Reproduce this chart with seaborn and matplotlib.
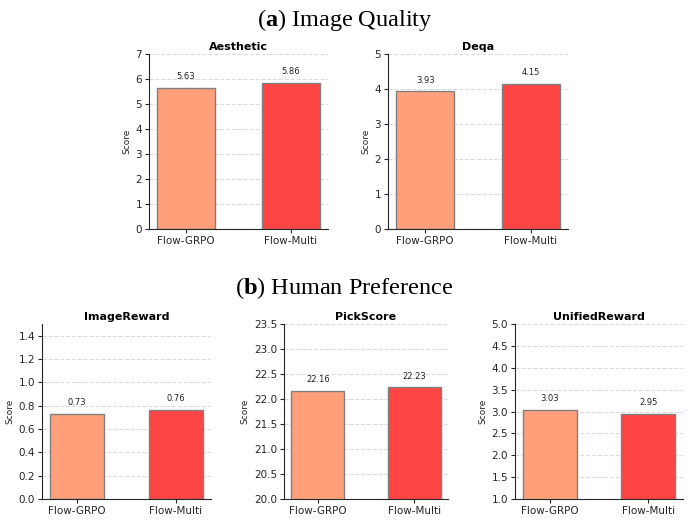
import matplotlib
matplotlib.use("Agg")
import matplotlib.pyplot as plt
import seaborn as sns
import numpy as np
import pandas as pd

methods = ["Flow-GRPO", "Flow-Multi"]
colors = ["#FFA07A", "#FF4444"]

aesthetic = [5.63, 5.86]
deqa = [3.93, 4.15]
imagereward = [0.73, 0.76]
pickscore = [22.16, 22.23]
unifiedreward = [3.03, 2.95]

panels = [
    ("Aesthetic", aesthetic, (0, 7), np.arange(0, 8, 1), "{:.0f}"),
    ("Deqa", deqa, (0, 5), np.arange(0, 6, 1), "{:.0f}"),
    ("ImageReward", imagereward, (0, 1.5), np.arange(0, 1.41, 0.2), "{:.1f}"),
    ("PickScore", pickscore, (20, 23.5), np.arange(20, 23.51, 0.5), "{:.1f}"),
    ("UnifiedReward", unifiedreward, (1, 5), np.arange(1, 5.01, 0.5), "{:.1f}"),
]

sns.set_style("white")
plt.rcParams['font.family'] = ['DejaVu Sans']
plt.rcParams['mathtext.fontset'] = 'custom'
plt.rcParams['mathtext.rm'] = 'Liberation Serif'
plt.rcParams['mathtext.bf'] = 'Liberation Serif:bold'

W, H = 689, 520
fig = plt.figure(figsize=(W / 100, H / 100), dpi=100)

# pixel boxes: left, right, top, bottom
boxes = [
    (149, 328, 54, 229),
    (388, 568, 54, 229),
    (42, 211, 324, 499),
    (284, 448, 324, 499),
    (515, 683, 324, 499),
]

for (title, vals, ylim, yticks, fmt), (l, r, t, b) in zip(panels, boxes):
    ax = fig.add_axes([l / W, (H - b) / H, (r - l) / W, (b - t) / H])
    df = pd.DataFrame({"Method": methods, "Score": vals})
    sns.barplot(data=df, x="Method", y="Score", hue="Method", palette=colors,
                saturation=1, width=0.55, edgecolor="gray", linewidth=1,
                legend=False, ax=ax)
    ax.set_xlim(-0.3525, 1.3525)
    ax.set_ylim(*ylim)
    ax.set_yticks(yticks)
    ax.set_yticklabels([fmt.format(v) for v in yticks], fontsize=7.5)
    ax.tick_params(axis="x", labelsize=7.5, length=3, bottom=True, pad=2)
    ax.tick_params(axis="y", length=3, left=True, pad=2)
    ax.set_xlabel("")
    ax.set_ylabel("Score", fontsize=6.5, labelpad=3)
    ax.set_title(title, fontsize=8, fontweight="bold", pad=3, color="black")
    ax.yaxis.grid(True, linestyle="--", color="#cccccc", alpha=0.7, linewidth=0.8)
    ax.set_axisbelow(True)
    sns.despine(ax=ax)
    for i, v in enumerate(vals):
        ax.annotate(f"{v:.2f}", (i, v), xytext=(0, 5), textcoords="offset points",
                    ha="center", va="bottom", fontsize=6, color="#222222")

fig.text(0.5, 1 - 20 / H, r"($\mathbf{a}$) Image Quality", ha="center", va="center",
         fontsize=17.5, color="black", family=["Liberation Serif", "DejaVu Serif"])
fig.text(0.5, 1 - 288 / H, r"($\mathbf{b}$) Human Preference", ha="center", va="center",
         fontsize=17.5, color="black", family=["Liberation Serif", "DejaVu Serif"])

fig.savefig("out.png", dpi=100)
